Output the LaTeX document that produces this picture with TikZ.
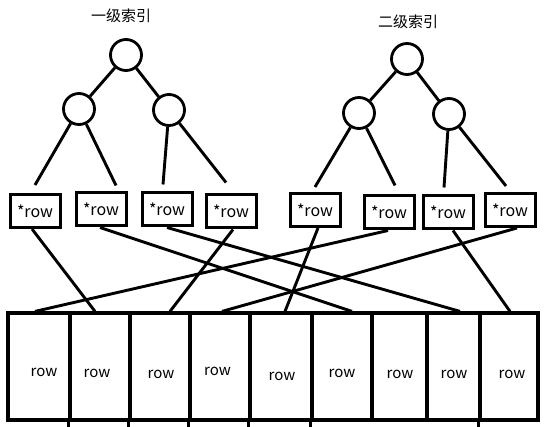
\documentclass[tikz,border=0pt]{standalone}
\usepackage{fontspec}
\setmainfont{Noto Sans CJK SC}
\begin{document}
\begin{tikzpicture}[x=1pt,y=-1pt,
  circ/.style={circle,draw,line width=2.8pt,minimum size=31pt,inner sep=0pt},
  ptr/.style={rectangle,draw,line width=3pt,minimum width=50pt,minimum height=33pt,inner sep=0pt,font=\fontsize{16}{18}\selectfont},
  cell/.style={rectangle,draw,line width=3.2pt,minimum height=107pt,inner sep=0pt},
  rowlbl/.style={font=\fontsize{15}{17}\selectfont,inner sep=0pt},
  ttl/.style={font=\fontsize{15}{17}\selectfont},
  edge/.style={line width=2.9pt},
  tick/.style={line width=3.2pt}]
\useasboundingbox (0,0) rectangle (547,427);
% titles
\node[ttl] (t1) at (121,16) {一级索引};
\node[ttl] (t2) at (408,22) {二级索引};
% tree 1
\node[circ] (r1) at (126,55) {};
\node[circ] (a1) at (79,109) {};
\node[circ] (a2) at (169,110) {};
% tree 2
\node[circ] (r2) at (407,59) {};
\node[circ] (a3) at (359,113) {};
\node[circ] (a4) at (449,114) {};
% pointer boxes
\node[ptr] (b1) at (35,211) {*row};
\node[ptr] (b2) at (101,209.5) {*row};
\node[ptr] (b3) at (167,209.5) {*row};
\node[ptr] (b4) at (231,211.5) {*row};
\node[ptr] (b5) at (315,210) {*row};
\node[ptr] (b6) at (389,212.5) {*row};
\node[ptr] (b7) at (448,212.5) {*row};
\node[ptr] (b8) at (510,210) {*row};
% row array
\node[cell,minimum width=62pt,label={[rowlbl,shift={(5pt,-6pt)}]center:row}] (c1) at (39,366.5) {};
\node[cell,minimum width=60pt,label={[rowlbl,shift={(-3pt,-7pt)}]center:row}] (c2) at (100,366.5) {};
\node[cell,minimum width=60pt,label={[rowlbl,shift={(1pt,-8pt)}]center:row}] (c3) at (160,366.5) {};
\node[cell,minimum width=60pt,label={[rowlbl,shift={(-2.5pt,-5pt)}]center:row}] (c4) at (220,366.5) {};
\node[cell,minimum width=62pt,label={[rowlbl,shift={(1pt,-10pt)}]center:row}] (c5) at (281,366.5) {};
\node[cell,minimum width=60pt,label={[rowlbl,shift={(0pt,-7pt)}]center:row}] (c6) at (342,366.5) {};
\node[cell,minimum width=55pt,label={[rowlbl,shift={(0.5pt,-8pt)}]center:row}] (c7) at (399.5,366.5) {};
\node[cell,minimum width=53pt,label={[rowlbl,shift={(0.5pt,-8pt)}]center:row}] (c8) at (453.5,366.5) {};
\node[cell,minimum width=58pt,label={[rowlbl,shift={(3pt,-8pt)}]center:row}] (c9) at (509,366.5) {};
% divider stubs below the array
\foreach \c in {c2,c3,c4,c5,c6,c9}{\draw[tick] (\c.south west) -- ++(0,6);}
% tree edges
\draw[edge] (r1) -- (a1);
\draw[edge] (r1) -- (a2);
\draw[edge] (r2) -- (a3);
\draw[edge] (r2) -- (a4);
\draw[edge] (a1) -- ([shift={(0,-8)}]b1.north);
\draw[edge] (a1) -- ([shift={(15,-6)}]b2.north);
\draw[edge] (a2) -- ([shift={(-4,-7)}]b3.north);
\draw[edge] (a2) -- ([shift={(-5,-11)}]b4.north);
\draw[edge] (a3) -- ([shift={(0,-5)}]b5.north);
\draw[edge] (a3) -- ([shift={(6,-9)}]b6.north);
\draw[edge] (a4) -- ([shift={(-4,-7)}]b7.north);
\draw[edge] (a4) -- ([shift={(-4,-6)}]b8.north);
% pointer edges
\draw[edge] ([xshift=-3]b1.south) -- ([xshift=-5]c2.north);
\draw[edge] ([xshift=-1]b2.south) -- ([xshift=10]c6.north);
\draw[edge] (b3.south) -- ([xshift=6.5]c8.north);
\draw[edge] ([xshift=2]b4.south) -- ([xshift=10]c3.north);
\draw[edge] ([xshift=3]b5.south) -- ([xshift=4]c5.north);
\draw[edge] ([xshift=-1]b6.south) -- ([xshift=-4]c1.north);
\draw[edge] ([xshift=5]b7.south) -- ([xshift=1]c9.north);
\draw[edge] ([xshift=7]b8.south) -- ([xshift=2]c4.north);
\end{tikzpicture}
\end{document}
